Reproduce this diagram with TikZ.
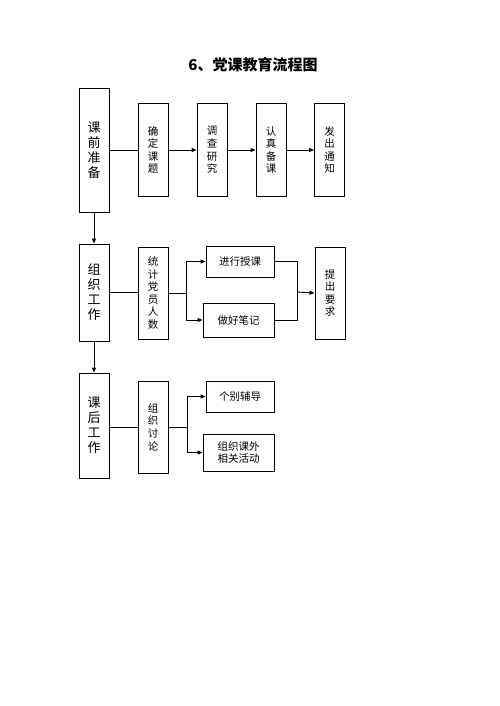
\documentclass[tikz,border=0pt]{standalone}
\usepackage{fontspec}
\usepackage{tikz}
\usetikzlibrary{arrows.meta, positioning}
\newfontfamily\cjk{Noto Sans CJK SC}

\begin{document}
\begin{tikzpicture}[x=1pt,y=-1pt,
  box/.style={draw, line width=0.9pt, inner sep=0pt, align=center, font=\cjk\fontsize{10.5}{12.6}\selectfont},
  bigbox/.style={box, minimum width=30pt, font=\cjk\fontsize{13}{15}\selectfont},
  tallbox/.style={box, minimum width=30pt, minimum height=92pt},
  widebox/.style={box, minimum width=70pt},
  arr/.style={-{Triangle[length=5pt,width=4pt]}, line width=0.9pt},
  ln/.style={line width=0.9pt}]
\useasboundingbox (0,0) rectangle (500,706);

\node[font=\cjk\bfseries\fontsize{15}{18}\selectfont] (title) at (253,65) {6、党课教育流程图};

% Row 1
\node[bigbox, minimum height=124pt] (kqzb) at (94,150) {课\\前\\准\\备};
\node[tallbox, minimum height=93pt] (qdkt) at (153,150) {确\\定\\课\\题};
\node[tallbox, minimum height=93pt] (dcyj) at (212,150) {调\\查\\研\\究};
\node[tallbox, minimum height=93pt] (rzbk) at (271,150) {认\\真\\备\\课};
\node[tallbox, minimum height=93pt] (fctz) at (329.5,150) {发\\出\\通\\知};
\draw[ln] (kqzb.east) -- (qdkt.west);
\draw[arr] (qdkt) -- (dcyj);
\draw[arr] (dcyj) -- (rzbk);
\draw[arr] (rzbk) -- (fctz);

% Row 2
\node[bigbox, minimum height=97pt] (zzgz) at (94,292.5) {组\\织\\工\\作};
\node[tallbox] (tjry) at (153,293) {统\\计\\党\\员\\人\\数};
\node[widebox, minimum width=68pt, minimum height=31pt] (jxsk) at (240,261.5) {进行授课};
\node[widebox, minimum width=71pt, minimum height=34pt] (zhbj) at (238.5,320) {做好笔记};
\node[tallbox] (tcyq) at (330,293) {提\\出\\要\\求};
\draw[arr] (kqzb) -- (zzgz);
\draw[ln] (zzgz.east) -- (zzgz.east -| tjry.west);
\coordinate (fen1) at ([xshift=18pt]tjry.east);
\draw[ln] (tjry.east) -- (fen1);
\draw[arr] (fen1) |- (jxsk.west);
\draw[arr] (fen1) |- (zhbj.west);
\coordinate (he1) at (297,292);
\draw[ln] (jxsk.east) -| (he1);
\draw[ln] (zhbj.east) -| (he1);
\draw[arr] (he1) -- (tcyq.west);

% Row 3
\node[bigbox, minimum height=105pt] (khgz) at (94,425.5) {课\\后\\工\\作};
\node[tallbox] (zztl) at (153,427) {组\\织\\讨\\论};
\node[widebox, minimum width=68pt, minimum height=31pt] (gbfd) at (240,396.5) {个别辅导};
\node[widebox, minimum width=71pt, minimum height=37pt] (kwhd) at (238.5,452.5) {组织课外\\相关活动};
\draw[arr] (zzgz) -- (khgz);
\draw[ln] (khgz.east |- zztl.west) -- (zztl.west);
\coordinate (fen2) at ([xshift=19pt]zztl.east);
\draw[ln] (zztl.east) -- (fen2);
\draw[arr] (fen2) |- (gbfd.west);
\draw[arr] (fen2) |- (kwhd.west);
\end{tikzpicture}
\end{document}
